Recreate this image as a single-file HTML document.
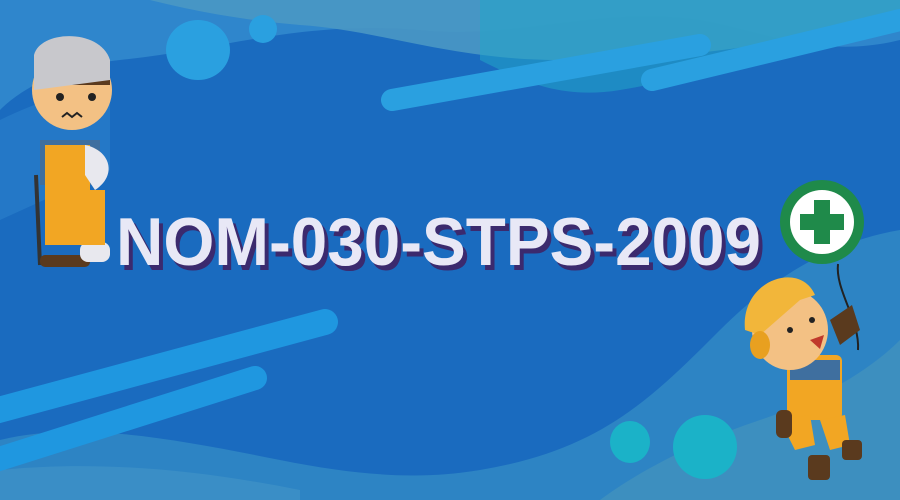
<!DOCTYPE html>
<html><head><meta charset="utf-8"><style>html,body{margin:0;padding:0;width:900px;height:500px;overflow:hidden;background:#1a6bbf}</style></head>
<body>
<svg width="900" height="500" viewBox="0 0 900 500" xmlns="http://www.w3.org/2000/svg">
<rect width="900" height="500" fill="#1a6bbf"/>
<!-- top waves -->
<path d="M0 0 H900 V40 C820 60 760 30 700 20 C600 5 520 40 420 30 C300 20 220 50 120 60 C60 66 20 90 0 110 Z" fill="#2f86cc"/>
<path d="M150 0 H900 V15 C800 40 700 60 560 60 C450 60 380 30 300 25 C240 20 190 10 150 0 Z" fill="#4a98c4" opacity="0.9"/>
<path d="M480 0 H900 V30 C820 40 740 70 620 90 C560 100 520 80 480 60 Z" fill="#22a6c8" opacity="0.55"/>
<path d="M0 120 C40 100 80 90 110 80 L110 170 L0 220 Z" fill="#2a7ecb" opacity="0.7"/>
<!-- bottom waves -->
<path d="M0 500 V440 C80 420 180 440 280 460 C360 476 420 480 480 470 C600 450 650 400 720 330 C780 270 840 240 900 230 V500 Z" fill="#2d84c4"/>
<path d="M600 500 C640 470 700 440 760 420 C820 400 870 370 900 340 V500 Z" fill="#3d8fbf"/>
<path d="M0 470 C100 460 200 470 300 490 L300 500 H0 Z" fill="#3a8ec6"/>
<!-- circles and bars -->
<ellipse cx="198" cy="50" rx="32" ry="30" fill="#2aa0e0"/>
<circle cx="263" cy="29" r="14" fill="#2aa0e0"/>
<line x1="392" y1="100" x2="700" y2="45" stroke="#2aa0e0" stroke-width="22" stroke-linecap="round"/>
<line x1="652" y1="80" x2="900" y2="20" stroke="#2aa0e0" stroke-width="22" stroke-linecap="round"/>
<line x1="-20" y1="415" x2="325" y2="322" stroke="#1f97e0" stroke-width="26" stroke-linecap="round"/>
<line x1="-20" y1="465" x2="255" y2="378" stroke="#1f97e0" stroke-width="24" stroke-linecap="round"/>
<ellipse cx="630" cy="442" rx="20" ry="21" fill="#1bb2c8"/>
<ellipse cx="705" cy="447" rx="32" ry="32" fill="#1bb2c8"/>
<!-- text -->
<text x="120" y="270" font-family="Liberation Sans, sans-serif" font-weight="bold" font-size="68" fill="#3b2a6e" textLength="645" lengthAdjust="spacingAndGlyphs">NOM-030-STPS-2009</text>
<text x="116" y="265" font-family="Liberation Sans, sans-serif" font-weight="bold" font-size="68" fill="#e8e8f6" textLength="645" lengthAdjust="spacingAndGlyphs">NOM-030-STPS-2009</text>
<!-- left character -->
<g>
<line x1="36" y1="175" x2="40" y2="265" stroke="#333" stroke-width="4"/>
<rect x="40" y="255" width="50" height="12" rx="5" fill="#5a3a1e"/>
<rect x="80" y="242" width="30" height="20" rx="8" fill="#e8e8ee"/>
<path d="M40 140 h60 v45 h-60 Z" fill="#3f6f9f"/>
<path d="M45 145 h45 v65 h-45 Z" fill="#f2a623"/>
<rect x="45" y="190" width="60" height="55" fill="#f2a623"/>
<path d="M85 145 C110 150 118 175 95 190 L85 175 Z" fill="#e8e8ee"/>
<ellipse cx="72" cy="90" rx="40" ry="40" fill="#f3c184"/>
<path d="M35 70 C35 35 110 30 110 70 L110 85 L35 85 Z" fill="#5a3a1e"/>
<path d="M34 55 C40 30 100 28 110 60 L110 80 L34 90 Z" fill="#c8c8cc"/>
<circle cx="60" cy="97" r="4" fill="#222"/><circle cx="92" cy="97" r="4" fill="#222"/>
<path d="M62 117 l5 -4 l5 4 l5 -4 l5 4" stroke="#222" stroke-width="2" fill="none"/>
</g>
<!-- first aid sign -->
<circle cx="822" cy="222" r="42" fill="#1f8a4a"/>
<circle cx="822" cy="222" r="32" fill="#fff"/>
<path d="M814 200 h16 v14 h14 v16 h-14 v14 h-16 v-14 h-14 v-16 h14 Z" fill="#1f8a4a"/>
<path d="M838 264 C835 290 860 320 858 350" stroke="#222" stroke-width="2" fill="none"/>
<!-- right character -->
<g>
<rect x="787" y="355" width="55" height="65" rx="6" fill="#f2a623"/>
<rect x="790" y="360" width="50" height="20" fill="#3f6f9f"/>
<path d="M780 420 l15 30 l20 -5 l-5 -30Z" fill="#f2a623"/>
<path d="M820 420 l10 30 l20 -5 l-5 -30Z" fill="#f2a623"/>
<rect x="808" y="455" width="22" height="25" rx="4" fill="#5a3a1e"/>
<rect x="842" y="440" width="20" height="20" rx="4" fill="#5a3a1e"/>
<rect x="776" y="410" width="16" height="28" rx="6" fill="#5a3a1e"/>
<path d="M830 320 L852 305 L860 330 L840 345 Z" fill="#5a3a1e"/>
<ellipse cx="790" cy="330" rx="38" ry="40" fill="#f3c184"/>
<path d="M745 330 C740 280 800 260 815 295 L800 300 L760 335 Z" fill="#f2b63a"/>
<ellipse cx="760" cy="345" rx="10" ry="14" fill="#e8a020"/>
<circle cx="790" cy="330" r="3" fill="#222"/><circle cx="812" cy="320" r="3" fill="#222"/>
<path d="M810 340 l14 -5 l-4 14 Z" fill="#c0392b"/>
</g>
</svg>
</body></html>
